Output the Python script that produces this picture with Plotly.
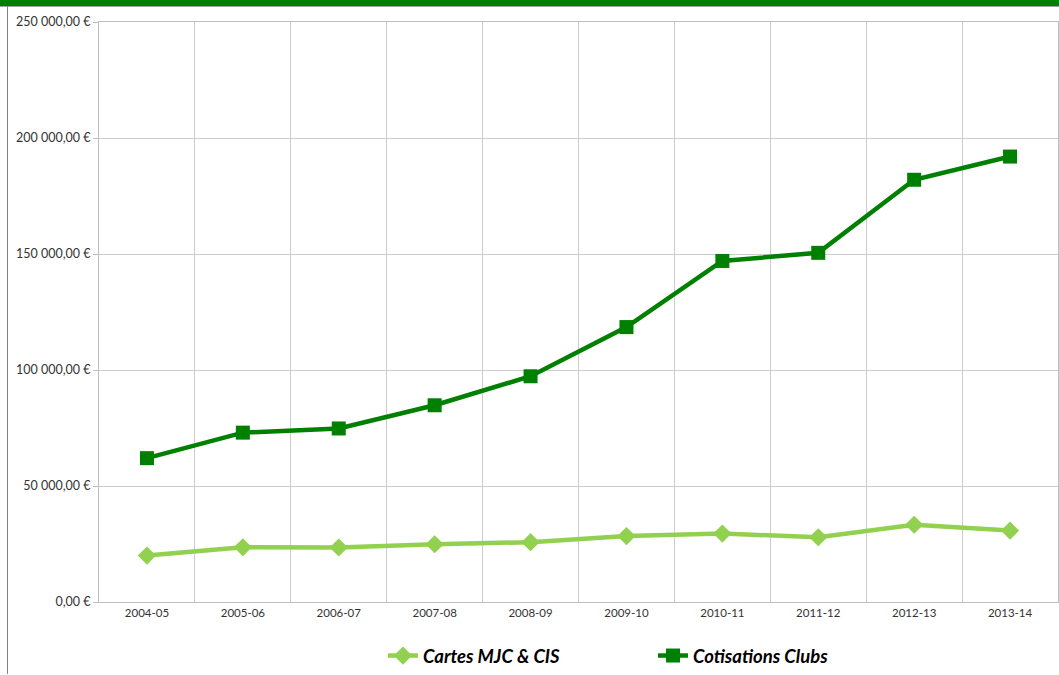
import plotly.graph_objects as go

seasons = ["2004-05", "2005-06", "2006-07", "2007-08", "2008-09",
           "2009-10", "2010-11", "2011-12", "2012-13", "2013-14"]
cartes_mjc_cis = [20000, 23600, 23500, 24900, 25800, 28400, 29500, 27900, 33300, 30800]
cotisations_clubs = [62000, 73000, 74800, 84800, 97300, 118500, 147000, 150500, 182000, 192000]
y_tickvals = [0, 50000, 100000, 150000, 200000, 250000]
y_ticktext = ["0,00 €", "50 000,00 €", "100 000,00 €", "150 000,00 €", "200 000,00 €", "250 000,00 €"]

W, H = 1059, 675
ML, MR, MT, MB = 99, 1, 22, 72
PW, PH = W - ML - MR, H - MT - MB

fig = go.Figure()
fig.add_trace(go.Scatter(
    x=seasons, y=cartes_mjc_cis, name="Cartes MJC & CIS", mode="lines+markers",
    line=dict(color="#92d050", width=4.5),
    marker=dict(symbol="diamond", size=14, color="#92d050"),
))
fig.add_trace(go.Scatter(
    x=seasons, y=cotisations_clubs, name="Cotisations Clubs", mode="lines+markers",
    line=dict(color="#008000", width=4.5),
    marker=dict(symbol="square", size=14, color="#008000"),
))

def px_x(p):
    return (p - ML) / PW

def px_y(p):
    return 1 - (p - MT) / PH

fig.update_layout(
    width=W, height=H,
    margin=dict(l=ML, r=MR, t=MT, b=MB),
    paper_bgcolor="white", plot_bgcolor="white",
    font=dict(family="Lato, Noto Sans, sans-serif", size=11, color="#333333"),
    showlegend=True,
    legend=dict(
        orientation="h", x=px_x(383), xanchor="left", y=px_y(656), yanchor="middle",
        font=dict(size=18.5, color="black", family="Lato, Noto Sans, sans-serif", style="italic", weight="bold"),
        entrywidth=225, itemwidth=30, bgcolor="rgba(0,0,0,0)",
    ),
    xaxis=dict(
        type="category", tickson="boundaries", showgrid=True, gridcolor="#cccccc", gridwidth=1,
        showline=True, linecolor="#bfbfbf", linewidth=1, mirror=True,
        ticks="", ticklen=0, tickfont=dict(size=11.5, color="#333333"),
        range=[-0.5, 9.5], fixedrange=True,
    ),
    yaxis=dict(
        range=[0, 250000], tickvals=y_tickvals, ticktext=y_ticktext,
        showgrid=True, gridcolor="#cccccc", gridwidth=1,
        showline=True, linecolor="#bfbfbf", linewidth=1, mirror=True,
        zeroline=False, ticks="outside", ticklen=5, tickcolor="#bfbfbf",
        tickfont=dict(size=12.5, color="#333333"), fixedrange=True,
    ),
    shapes=[
        dict(type="rect", xref="paper", yref="paper",
             x0=px_x(0), x1=px_x(W), y0=px_y(6), y1=px_y(0),
             fillcolor="#008000", line=dict(width=0), layer="above"),
        dict(type="line", xref="paper", yref="paper",
             x0=px_x(0), x1=px_x(W), y0=px_y(6.5), y1=px_y(6.5),
             line=dict(color="#a0a0a0", width=1)),
        dict(type="line", xref="paper", yref="paper",
             x0=px_x(7.5), x1=px_x(7.5), y0=px_y(6), y1=px_y(H),
             line=dict(color="#808080", width=1)),
    ],
)

fig.write_html(
    "out.html",
    config={"responsive": False, "displayModeBar": False},
    post_script="document.body.style.margin='0';document.body.style.overflow='hidden';",
)
